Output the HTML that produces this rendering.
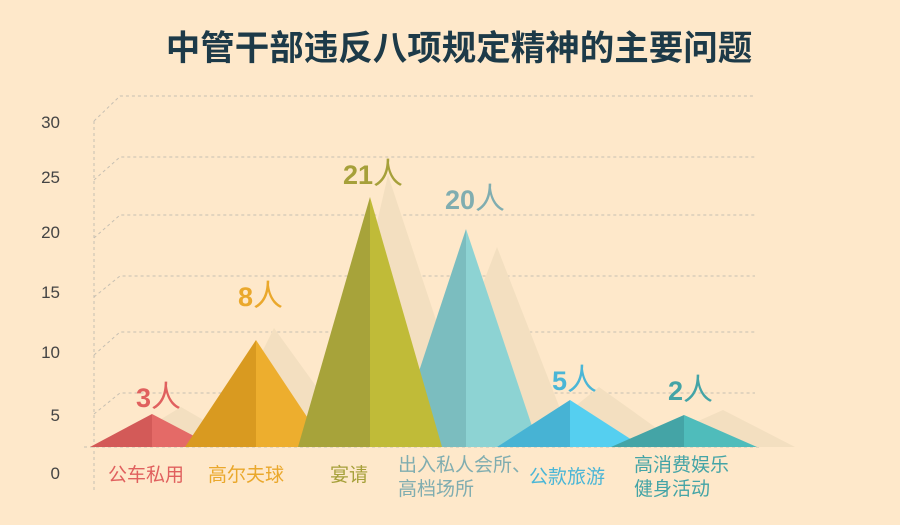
<!DOCTYPE html>
<html><head><meta charset="utf-8"><style>
body{margin:0;background:#fee8ca;}
svg{display:block}
text{font-family:"Liberation Sans","Noto Sans CJK SC",sans-serif}
</style></head><body>
<svg width="900" height="525" viewBox="0 0 900 525" xmlns="http://www.w3.org/2000/svg">
<rect width="900" height="525" fill="#fee8ca"/>
<text x="459" y="60" text-anchor="middle" font-size="34.5" font-weight="bold" fill="#1d3a48" style="font-family:'Noto Sans CJK SC',sans-serif">中管干部违反八项规定精神的主要问题</text>
<g stroke="#c6bfb2" stroke-width="1" stroke-dasharray="3,3" fill="none">
<line x1="94" y1="121" x2="94" y2="492"/>
<polyline points="94,121 120,96 755,96"/>
<polyline points="94,180 120,157 755,157"/>
<polyline points="94,238 120,215 755,215"/>
<polyline points="94,297 120,276 755,276"/>
<polyline points="94,355 120,332 755,332"/>
<polyline points="94,414 120,393 755,393"/>
<line x1="84" y1="447" x2="760" y2="447"/>
</g>
<g font-size="17" fill="#444" text-anchor="end">
<text x="60" y="128">30</text><text x="60" y="183">25</text><text x="60" y="238">20</text>
<text x="60" y="298">15</text><text x="60" y="358">10</text><text x="60" y="421">5</text><text x="60" y="479">0</text>
</g>
<g fill="#f3dfc0">
<polygon points="115,447 181,407 250,447"/>
<polygon points="215,447 274,328 360,447"/>
<polygon points="325,447 388,175 478,447"/>
<polygon points="420,447 497,247 575,447"/>
<polygon points="525,447 599,387 683,447"/>
<polygon points="640,447 723,410 795,447"/>
</g>
<polygon points="90,447 152,414 152,447" fill="#d35a58"/><polygon points="152,414 215,447 152,447" fill="#e46a67"/>
<polygon points="185,447 256,340 256,447" fill="#d99a20"/><polygon points="256,340 327,447 256,447" fill="#edae2e"/>
<polygon points="394,447 466,229 466,447" fill="#7bbdbf"/><polygon points="466,229 539,447 466,447" fill="#8dd3d3"/>
<polygon points="298,447 370,197 370,447" fill="#a7a33a"/><polygon points="370,197 442,447 370,447" fill="#c0bb38"/>
<polygon points="497,447 570,400 570,447" fill="#47b3d4"/><polygon points="570,400 643,447 570,447" fill="#55cff0"/>
<polygon points="611,447 684,415 684,447" fill="#44a4a6"/><polygon points="684,415 757,447 684,447" fill="#4fbcbb"/>
<g font-size="30">
<text x="136" y="407" fill="#e0605e"><tspan font-weight="bold" font-size="27">3</tspan><tspan>人</tspan></text>
<text x="238" y="306" fill="#eaa82c"><tspan font-weight="bold" font-size="27">8</tspan><tspan>人</tspan></text>
<text x="343" y="184" fill="#a6a03a"><tspan font-weight="bold" font-size="27">21</tspan><tspan>人</tspan></text>
<text x="445" y="209" fill="#80adb0"><tspan font-weight="bold" font-size="27">20</tspan><tspan>人</tspan></text>
<text x="552" y="390" fill="#4bb6d6"><tspan font-weight="bold" font-size="27">5</tspan><tspan>人</tspan></text>
<text x="668" y="400" fill="#44a4a6"><tspan font-weight="bold" font-size="27">2</tspan><tspan>人</tspan></text>
</g>
<g font-size="19">
<text x="108" y="481" fill="#e0605e">公车私用</text>
<text x="208" y="481" fill="#eaa82c">高尔夫球</text>
<text x="330" y="481" fill="#a6a03a">宴请</text>
<text x="398" y="471" fill="#80adb0">出入私人会所、</text>
<text x="398" y="495" fill="#80adb0">高档场所</text>
<text x="529" y="483" fill="#4bb6d6">公款旅游</text>
<text x="634" y="471" fill="#44a4a6">高消费娱乐</text>
<text x="634" y="495" fill="#44a4a6">健身活动</text>
</g>
</svg>
</body></html>
